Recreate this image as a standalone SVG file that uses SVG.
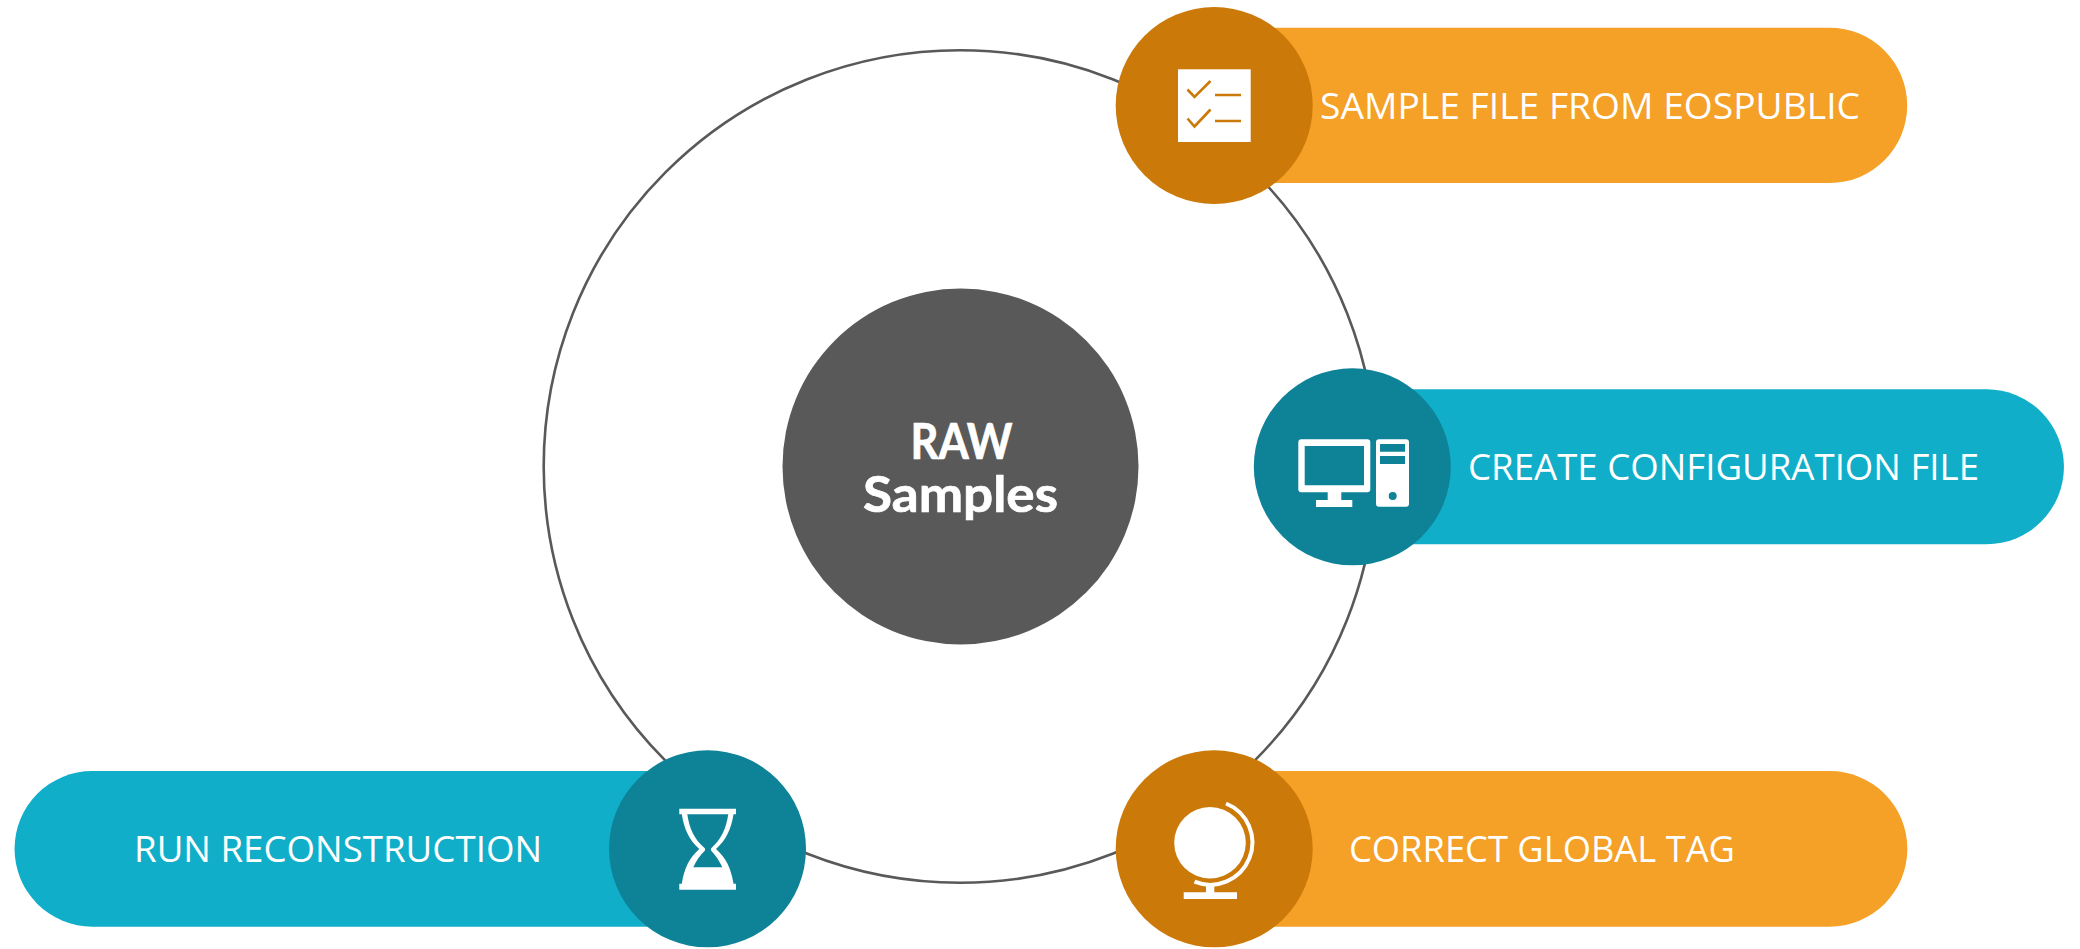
<svg xmlns="http://www.w3.org/2000/svg" width="2080" height="949" viewBox="0 0 2080 949">
<style>
.orange{fill:#F5A027}.dorange{fill:#CB7908}.teal{fill:#10AEC8}.dteal{fill:#0E8398}
.ico{fill:#fff}
.lbl{font-family:"Open Sans","Noto Sans",sans-serif;font-weight:400;font-size:36px;fill:#fff}
.ctr{font-family:"Lato","Liberation Sans",sans-serif;font-weight:700;font-size:49px;fill:#fff;stroke:#fff;stroke-width:.7}
.tick{fill:none;stroke:#CB7908;stroke-width:2.600}
</style>
<rect width="2080" height="949" fill="#fff"/>
<g id="connectors">
<circle cx="960" cy="466.500" r="416.300" fill="none" stroke="#595959" stroke-width="2.600"/>
</g>
<g id="center">
<circle cx="960.500" cy="466.500" r="178" fill="#595959"/>
<text class="ctr" x="910.500" y="458.500" textLength="102" lengthAdjust="spacingAndGlyphs">RAW</text>
<text class="ctr" x="863" y="511.500" textLength="195" lengthAdjust="spacingAndGlyphs">Samples</text>
</g>
<g id="node-sample">
<path class="orange" d="M1214 27.700H1829.500a77.700 77.700 0 0 1 0 155.400H1214Z"/>
<circle class="dorange" cx="1214.200" cy="105.500" r="98.500"/>
<rect class="ico" x="1178" y="69.300" width="72.700" height="72.700"/>
<path class="tick" d="M1187.500 89.500l7 7.500 16-16M1187.500 118.500l7 8 16-17M1215 95h26M1215 121h26"/>
<text class="lbl" x="1320" y="118.500" textLength="540" lengthAdjust="spacingAndGlyphs">SAMPLE FILE FROM EOSPUBLIC</text>
</g>
<g id="node-config">
<path class="teal" d="M1352 389.300H1986.500a77.500 77.500 0 0 1 0 155H1352Z"/>
<circle class="dteal" cx="1352.300" cy="466.800" r="98.500"/>
<path class="ico" fill-rule="evenodd" d="M1301.300 439.300h66a3 3 0 0 1 3 3v47a3 3 0 0 1-3 3h-66a3 3 0 0 1-3-3v-47a3 3 0 0 1 3-3ZM1304.700 446v39.300h59.300V446Z"/>
<path class="ico" d="M1327.700 492h13.600v8h11v7h-36.300v-7h11.700Z"/>
<path class="ico" fill-rule="evenodd" d="M1379 439.300h27a3 3 0 0 1 3 3v61.400a3 3 0 0 1-3 3h-27a3 3 0 0 1-3-3v-61.400a3 3 0 0 1 3-3ZM1380 444v7.700h25V444ZM1380 456v8h25v-8ZM1396.700 496a4 4 0 1 0-8 0a4 4 0 1 0 8 0Z"/>
<text class="lbl" x="1468" y="480" textLength="511" lengthAdjust="spacingAndGlyphs">CREATE CONFIGURATION FILE</text>
</g>
<g id="node-tag">
<path class="orange" d="M1214 771H1829.500a77.800 77.800 0 0 1 0 155.700H1214Z"/>
<circle class="dorange" cx="1214.200" cy="848.800" r="98.500"/>
<circle class="ico" cx="1210" cy="842.700" r="35.800"/>
<path fill="none" stroke="#fff" stroke-width="4" d="M1226 803.500A42 42 0 0 1 1194.500 881.700"/>
<path class="ico" d="M1206 884h8.300v8.300h22.700V899h-53.300v-6.700h22.300Z"/>
<text class="lbl" x="1349" y="861.500" textLength="386" lengthAdjust="spacingAndGlyphs">CORRECT GLOBAL TAG</text>
</g>
<g id="node-recon">
<path class="teal" d="M708 771H92.400a77.800 77.800 0 0 0 0 155.700H708Z"/>
<circle class="dteal" cx="707.500" cy="848.800" r="98.500"/>
<path class="ico" fill-rule="evenodd" d="M679.300 808.700H736v5.600h-2.500C731 830 726 840 716 849C726 858 731 868 733.500 883.700H736v6H679.300v-6H681.800C684.300 868 689.300 858 699.300 849C689.300 840 684.300 830 681.800 814.300H679.300ZM687.300 814.300C689.500 829 694 839 705 848.500V850.500C700 855 696 861 693.300 867.300H722.300C719.500 861 715.500 855 711 850.500V848.500C721.500 839 726 829 728.300 814.300Z"/>
<text class="lbl" x="134" y="861.500" textLength="408" lengthAdjust="spacingAndGlyphs">RUN RECONSTRUCTION</text>
</g>
</svg>
